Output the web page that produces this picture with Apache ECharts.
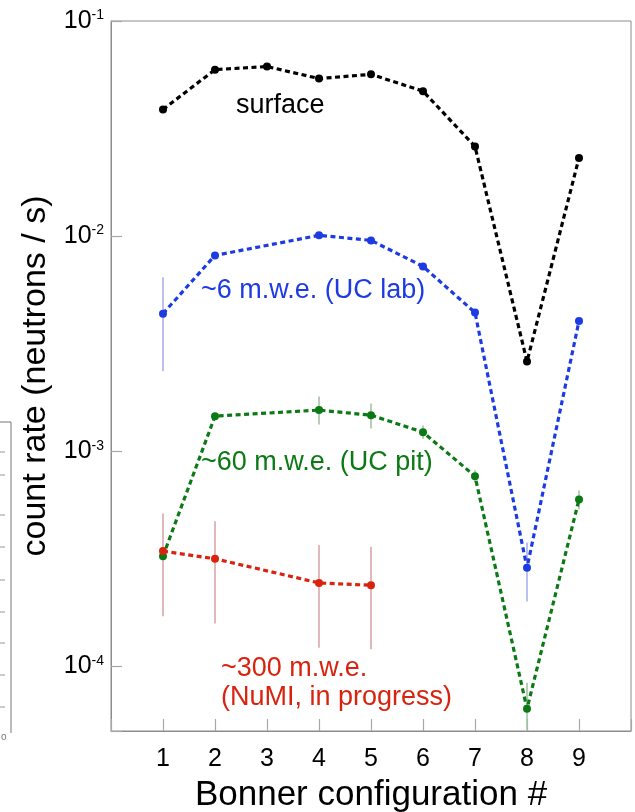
<!DOCTYPE html>
<html>
<head>
<meta charset="utf-8">
<script src="https://cdn.jsdelivr.net/npm/echarts@6/dist/echarts.min.js"></script>
<style>
html,body{margin:0;padding:0;background:#fff;}
#chart{width:635px;height:812px;}
</style>
</head>
<body>
<div id="chart"></div>
<script>
// ---- data ----
const configTicks = [1, 2, 3, 4, 5, 6, 7, 8, 9];

const surfaceX = [1, 2, 3, 4, 5, 6, 7, 8, 9];
const surfaceY = [0.0388, 0.0594, 0.0614, 0.0540, 0.0565, 0.0472, 0.0261, 0.00261, 0.0231];

const ucLabX = [1, 2, 4, 5, 6, 7, 8, 9];
const ucLabY = [0.00436, 0.00813, 0.01008, 0.00955, 0.00723, 0.00441, 0.000287, 0.00403];
const ucLabErrX = [1, 8];
const ucLabErrLo = [0.00235, 0.000200];
const ucLabErrHi = [0.00643, 0.000376];

const ucPitX = [1, 2, 4, 5, 6, 7, 8, 9];
const ucPitY = [0.000325, 0.001455, 0.001552, 0.00147, 0.001225, 0.000765, 0.0000634, 0.000596];
const ucPitErrX = [4, 5, 6, 7, 8, 9];
const ucPitErrLo = [0.00133, 0.001274, 0.001143, 0.000715, 0.00005, 0.000535];
const ucPitErrHi = [0.001795, 0.001664, 0.001315, 0.000817, 0.0000839, 0.000656];

const numiX = [1, 2, 4, 5];
const numiY = [0.000343, 0.000316, 0.000244, 0.000238];
const numiErrLo = [0.0001707, 0.000158, 0.000122, 0.00012];
const numiErrHi = [0.000513, 0.000472, 0.000366, 0.000359];

const labels = {
  surface: 'surface',
  lab: '~6 m.w.e. (UC lab)',
  pit: '~60 m.w.e. (UC pit)',
  numi1: '~300 m.w.e.',
  numi2: '(NuMI, in progress)'
};

// ---- build ----
const FONT = '"Liberation Sans", Arial, Helvetica, sans-serif';
const C = { black: '#000000', blue: '#1d3be3', green: '#0b7a15', red: '#d9230f' };
const CE = { blue: '#a9b2ee', green: '#a3c2a3', red: '#dba6a8' };

const pairs = (xs, ys) => xs.map((x, i) => [x, ys[i]]);
const triples = (xs, lo, hi) => xs.map((x, i) => [x, lo[i], hi[i]]);

function errSeries(data, color) {
  return {
    type: 'custom',
    clip: true,
    z: 1,
    silent: true,
    data: data,
    encode: { x: 0, y: [1, 2] },
    renderItem: function (params, api) {
      const x = api.value(0);
      const p1 = api.coord([x, api.value(1)]);
      const p2 = api.coord([x, api.value(2)]);
      return {
        type: 'line',
        shape: { x1: p1[0], y1: p1[1], x2: p2[0], y2: p2[1] },
        style: { stroke: color, lineWidth: 1.6 }
      };
    }
  };
}

function lineSeries(data, color) {
  return {
    type: 'line',
    z: 3,
    data: data,
    symbol: 'circle',
    symbolSize: 8,
    itemStyle: { color: color },
    lineStyle: { color: color, width: 3.2, type: [5, 3.5] },
    emphasis: { disabled: true },
    animation: false
  };
}

function sup(v) {
  const e = Math.round(Math.log10(v));
  if (Math.abs(v - Math.pow(10, e)) / v > 1e-6) return '';
  return '{b|10}{s|' + e + '}';
}

const leftTicksY = [452, 475, 515, 547, 580, 612, 643, 675, 707];
const fragment = [
  { type: 'line', shape: { x1: 11, y1: 422, x2: 11, y2: 733 }, style: { stroke: '#777', lineWidth: 1 } },
  { type: 'line', shape: { x1: 0, y1: 422, x2: 11, y2: 422 }, style: { stroke: '#777', lineWidth: 1 } },
  { type: 'text', left: 1, top: 732, style: { text: 'o', fontSize: 10, fill: '#777', font: '10px ' + FONT } }
].concat(leftTicksY.map(y => ({ type: 'line', shape: { x1: 0, y1: y, x2: 5, y2: y }, style: { stroke: '#999', lineWidth: 1 } })));

const txt = (text, x, y, color) => ({
  type: 'text', x: x, y: y, z: 10,
  style: { text: text, fill: color, font: '27px ' + FONT, textAlign: 'left', textVerticalAlign: 'middle' }
});

const chart = echarts.init(document.getElementById('chart'), null, { renderer: 'canvas' });
chart.setOption({
  animation: false,
  backgroundColor: '#ffffff',
  grid: { left: 111, right: 4, top: 21, bottom: 81, show: true, borderColor: '#8c8c8c', borderWidth: 1, containLabel: false, outerBoundsMode: 'none' },
  xAxis: {
    type: 'value', min: 0, max: 10, interval: 1,
    axisLine: { show: true, lineStyle: { color: '#8c8c8c', width: 1 } },
    axisTick: { show: true, inside: true, length: 12, lineStyle: { color: '#a8a8a8', width: 1.2 } },
    splitLine: { show: false },
    axisLabel: {
      margin: 16, color: '#000', fontFamily: FONT, fontSize: 25,
      formatter: v => (configTicks.indexOf(v) >= 0 ? String(v) : '')
    },
    name: 'Bonner configuration #', nameLocation: 'middle', nameGap: 47,
    nameTextStyle: { color: '#000', fontFamily: FONT, fontSize: 35 }
  },
  yAxis: {
    type: 'log', logBase: 10, min: 0.00005, max: 0.1,
    axisLine: { show: true, lineStyle: { color: '#8c8c8c', width: 1 } },
    axisTick: { show: true, inside: true, length: 11, lineStyle: { color: '#a8a8a8', width: 1.2 } },
    minorTick: { show: false },
    splitLine: { show: false },
    axisLabel: {
      margin: 7, color: '#000', fontFamily: FONT,
      formatter: sup,
      rich: {
        b: { fontSize: 25, lineHeight: 25, fontFamily: FONT, color: '#000', verticalAlign: 'bottom' },
        s: { fontSize: 14, lineHeight: 14, fontFamily: FONT, color: '#000', verticalAlign: 'top', padding: [0, 0, 15, 0] }
      }
    },
    name: 'count rate (neutrons / s)', nameLocation: 'middle', nameGap: 54,
    nameTextStyle: { color: '#000', fontFamily: FONT, fontSize: 34 }
  },
  series: [
    errSeries(triples(ucLabErrX, ucLabErrLo, ucLabErrHi), CE.blue),
    errSeries(triples(ucPitErrX, ucPitErrLo, ucPitErrHi), CE.green),
    errSeries(triples(numiX, numiErrLo, numiErrHi), CE.red),
    lineSeries(pairs(surfaceX, surfaceY), C.black),
    lineSeries(pairs(ucLabX, ucLabY), C.blue),
    lineSeries(pairs(ucPitX, ucPitY), C.green),
    lineSeries(pairs(numiX, numiY), C.red)
  ],
  graphic: fragment.concat([
    txt(labels.surface, 236, 105.5, C.black),
    txt(labels.lab, 201, 290.5, C.blue),
    txt(labels.pit, 201, 462.5, C.green),
    txt(labels.numi1, 221, 669, C.red),
    txt(labels.numi2, 221, 698, C.red)
  ])
});
</script>
</body>
</html>
